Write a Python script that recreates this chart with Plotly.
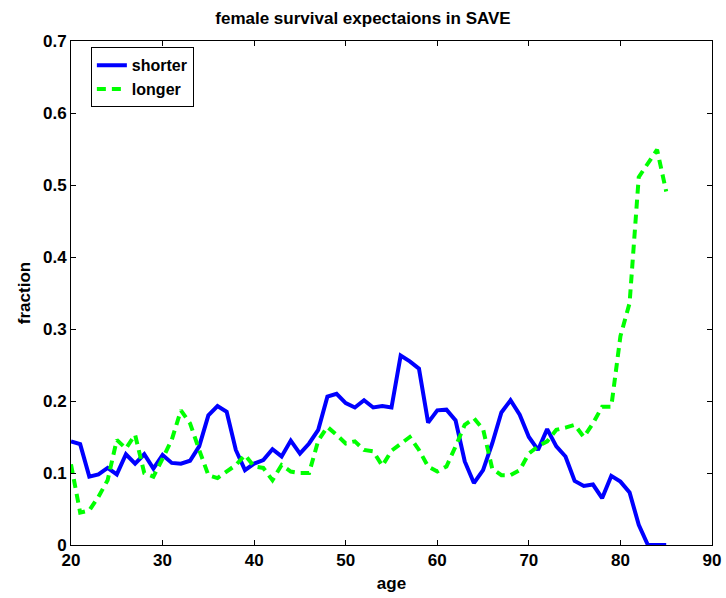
import plotly.graph_objects as go

ages = list(range(20, 86))
shorter = [0.144, 0.140, 0.095, 0.098, 0.107, 0.098, 0.126, 0.113, 0.126, 0.106,
           0.125, 0.114, 0.113, 0.117, 0.137, 0.180, 0.193, 0.185, 0.132, 0.104,
           0.113, 0.118, 0.133, 0.123, 0.145, 0.127, 0.141, 0.160, 0.206, 0.210,
           0.197, 0.191, 0.201, 0.191, 0.193, 0.191, 0.263, 0.255, 0.245, 0.170,
           0.187, 0.188, 0.173, 0.116, 0.086, 0.104, 0.141, 0.184, 0.201, 0.181,
           0.150, 0.132, 0.161, 0.137, 0.123, 0.089, 0.082, 0.084, 0.065, 0.096,
           0.088, 0.073, 0.028, 0.0, 0.0, 0.0]
longer = [0.112, 0.045, 0.048, 0.067, 0.090, 0.146, 0.134, 0.153, 0.100, 0.095,
          0.120, 0.146, 0.187, 0.169, 0.132, 0.097, 0.093, 0.102, 0.111, 0.125,
          0.109, 0.107, 0.090, 0.111, 0.102, 0.100, 0.100, 0.145, 0.164, 0.153,
          0.141, 0.144, 0.132, 0.130, 0.110, 0.131, 0.140, 0.150, 0.132, 0.109,
          0.102, 0.109, 0.137, 0.167, 0.176, 0.161, 0.106, 0.097, 0.097, 0.104,
          0.127, 0.137, 0.144, 0.160, 0.163, 0.167, 0.150, 0.169, 0.192, 0.192,
          0.290, 0.336, 0.511, 0.530, 0.549, 0.491]

FONT = "Liberation Sans, Arial, Helvetica, sans-serif"

fig = go.Figure()
fig.add_trace(go.Scatter(x=ages, y=shorter, mode="lines", name="shorter",
                         line=dict(color="#0000FF", width=4)))
fig.add_trace(go.Scatter(x=ages, y=longer, mode="lines", name="longer",
                         line=dict(color="#00FF00", width=4, dash="9px,6px")))

axis_common = dict(showline=True, linecolor="black", linewidth=1, mirror="ticks",
                   ticks="inside", ticklen=5, tickcolor="black", showgrid=False,
                   zeroline=False, automargin=False,
                   tickfont=dict(family=FONT, size=17, color="black", weight="bold"))

fig.update_layout(
    width=726, height=598,
    margin=dict(l=71, r=14, t=41, b=53),
    paper_bgcolor="white", plot_bgcolor="white",
    title=dict(text="female survival expectaions in SAVE", x=0.5, xanchor="center",
               y=1 - 18 / 598, yanchor="middle",
               font=dict(family=FONT, size=17, color="black", weight="bold")),
    xaxis=dict(range=[20, 90], dtick=10, tick0=20,
               title=dict(text="age", standoff=7,
                          font=dict(family=FONT, size=17, color="black", weight="bold")),
               **axis_common),
    yaxis=dict(range=[0, 0.7], dtick=0.1, tick0=0,
               title=dict(text="fraction", standoff=8,
                          font=dict(family=FONT, size=17, color="black", weight="bold")),
               **axis_common),
    legend=dict(x=0.031, y=0.9875, xanchor="left", yanchor="top",
                bgcolor="white", bordercolor="black", borderwidth=1,
                font=dict(family=FONT, size=16, color="black", weight="bold"),
                tracegroupgap=0, itemwidth=30),
    showlegend=True,
)

fig.write_html("out.html")
